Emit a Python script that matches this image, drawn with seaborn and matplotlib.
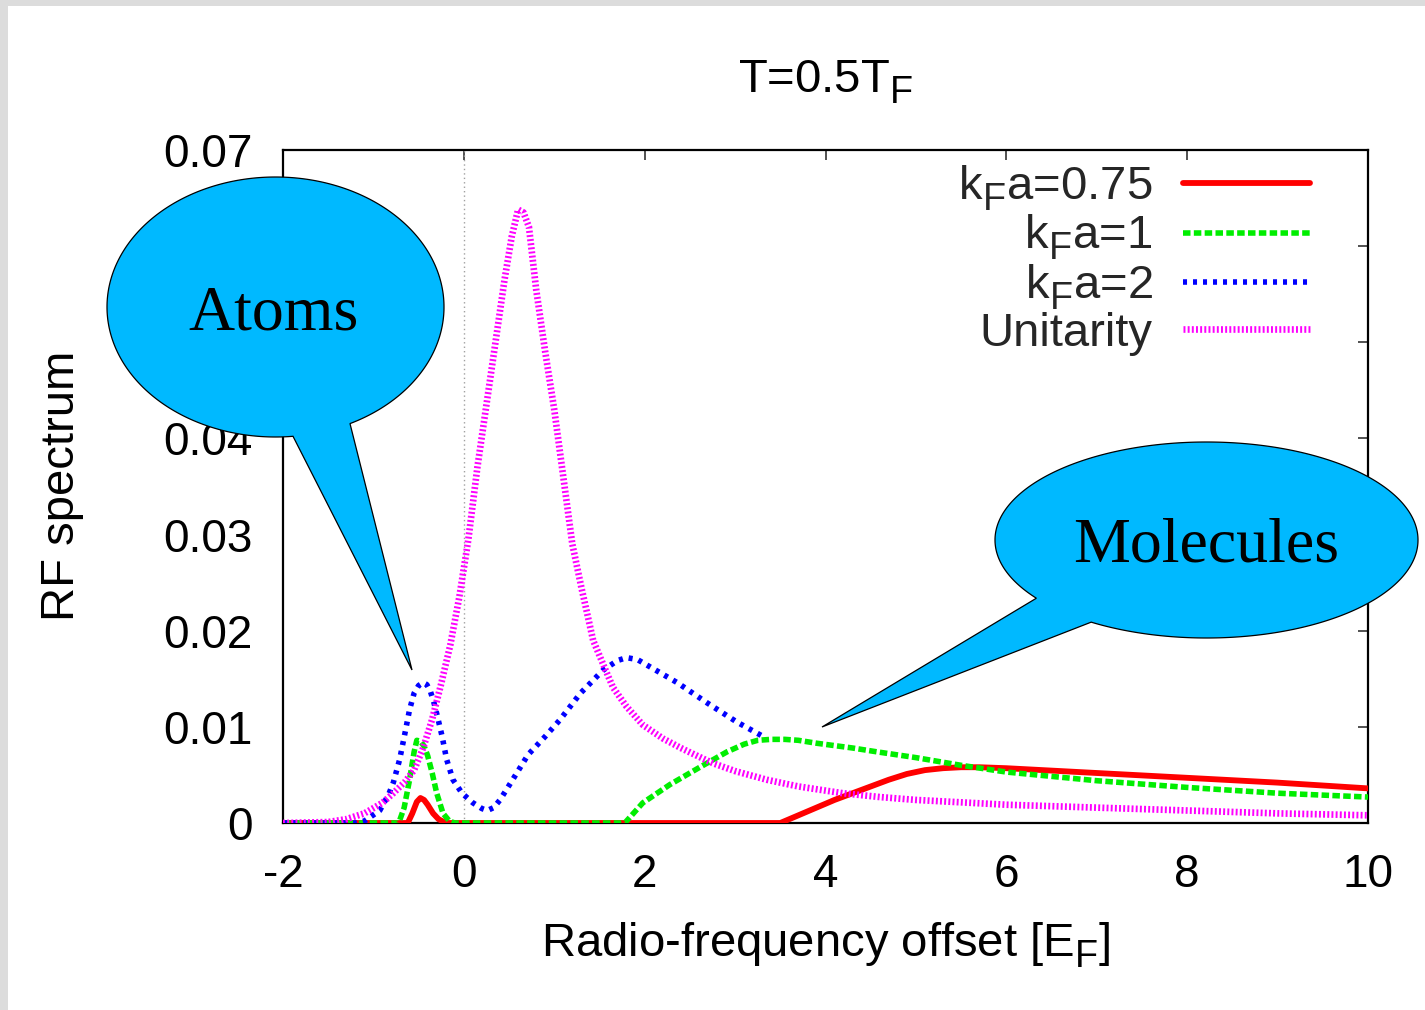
import numpy as np
import pandas as pd
import matplotlib
matplotlib.use("Agg")
import matplotlib.pyplot as plt
import seaborn as sns
from matplotlib.patches import Polygon, Rectangle

# ---------------- data ----------------
x_kfa075 = [-2.0, -0.62, -0.57, -0.52, -0.48, -0.44, -0.40, -0.34, -0.28, -0.22, -0.18,
            3.5, 3.7, 3.9, 4.1, 4.3, 4.5, 4.7, 4.9, 5.1, 5.3, 5.5, 5.7, 6.0, 7.0, 8.0, 9.0, 10.0]
y_kfa075 = [0.0, 0.0, 0.0010, 0.0022, 0.0026, 0.0024, 0.0019, 0.0010, 0.0004, 0.0001, 0.0,
            0.0, 0.0008, 0.0016, 0.0024, 0.0031, 0.0038, 0.0045, 0.0051, 0.0055, 0.0057,
            0.0058, 0.0058, 0.0057, 0.0052, 0.0047, 0.0042, 0.0036]

x_kfa1 = [-2.0, -0.72, -0.66, -0.60, -0.55, -0.52, -0.48, -0.44, -0.40, -0.35, -0.30, -0.23,
          -0.16, -0.10, 1.78, 1.98, 2.28, 2.61, 2.91, 3.10, 3.25, 3.40, 3.55, 3.7, 3.9, 4.3,
          4.57, 5.0, 5.5, 6.0, 7.0, 8.0, 9.0, 10.0]
y_kfa1 = [0.0, 0.0, 0.0016, 0.0045, 0.0074, 0.0086, 0.0085, 0.0080, 0.0070, 0.0052, 0.0031,
          0.0010, 0.0002, 0.0, 0.0, 0.0021, 0.0040, 0.0058, 0.0074, 0.0082, 0.0086, 0.0087,
          0.0087, 0.0086, 0.0083, 0.0078, 0.0074, 0.0068, 0.0060, 0.0053, 0.0044, 0.0037,
          0.0031, 0.0027]

x_kfa2 = [-2.0, -1.2, -1.1, -0.93, -0.83, -0.78, -0.71, -0.65, -0.60, -0.55, -0.50, -0.45,
          -0.41, -0.37, -0.33, -0.29, -0.24, -0.19, -0.12, -0.02, 0.10, 0.20, 0.26, 0.33,
          0.40, 0.54, 0.71, 0.90, 1.06, 1.29, 1.54, 1.70, 1.80, 1.92, 2.03, 2.36, 2.69,
          3.02, 3.31]
y_kfa2 = [0.0, 0.0, 0.0002, 0.0013, 0.0030, 0.0042, 0.0066, 0.0094, 0.0118, 0.0135, 0.0143,
          0.0146, 0.0144, 0.0137, 0.0125, 0.0110, 0.0090, 0.0066, 0.0045, 0.0031, 0.0021,
          0.0015, 0.0013, 0.0016, 0.0024, 0.0045, 0.0071, 0.0090, 0.0107, 0.0135, 0.0159,
          0.0169, 0.0172, 0.0170, 0.0164, 0.0146, 0.0125, 0.0105, 0.0090]

x_unit = [-2.0, -1.5, -1.3, -1.1, -0.9, -0.78, -0.65, -0.55, -0.45, -0.35, -0.25, -0.15,
          -0.05, 0.05, 0.15, 0.25, 0.35, 0.45, 0.53, 0.60, 0.66, 0.72, 0.80, 0.90, 1.0, 1.1,
          1.2, 1.3, 1.43, 1.55, 1.65, 1.8, 1.98, 2.2, 2.4, 2.6, 2.76, 3.0, 3.35, 3.7, 4.19,
          4.6, 5.0, 6.0, 7.0, 8.0, 9.0, 10.0]
y_unit = [0.0, 0.0001, 0.0004, 0.0010, 0.0021, 0.0031, 0.0043, 0.0055, 0.0078, 0.0108,
          0.0145, 0.0185, 0.0235, 0.0295, 0.0370, 0.0435, 0.0500, 0.0565, 0.0610, 0.0638,
          0.0635, 0.0620, 0.0555, 0.0490, 0.0430, 0.0360, 0.0290, 0.0245, 0.0190, 0.0163,
          0.0141, 0.0121, 0.0102, 0.0088, 0.0078, 0.0069, 0.0062, 0.0054, 0.0045, 0.0038,
          0.0031, 0.0027, 0.0024, 0.0019, 0.0016, 0.0013, 0.0010, 0.0008]

labels = ["k$_\\mathregular{F}$a=0.75", "k$_\\mathregular{F}$a=1",
          "k$_\\mathregular{F}$a=2", "Unitarity"]
x_ticks = [-2, 0, 2, 4, 6, 8, 10]
y_ticks = [0.0, 0.01, 0.02, 0.03, 0.04, 0.05, 0.06, 0.07]
y_ticklabels = ["0", "0.01", "0.02", "0.03", "0.04", "0.05", "0.06", "0.07"]

# ---------------- style ----------------
sns.set_theme(style="white")
plt.rcParams["font.family"] = ["Liberation Sans", "DejaVu Sans"]
plt.rcParams["mathtext.fontset"] = "custom"
plt.rcParams["mathtext.rm"] = "Liberation Sans"
plt.rcParams["mathtext.it"] = "Liberation Sans:italic"
plt.rcParams["lines.scale_dashes"] = False

# larger, lower subscripts (gnuplot-like)
try:
    import matplotlib._mathtext as _mt
    _mt.SHRINK_FACTOR = 0.8
    _mt.FontConstantsBase.sub1 = 0.45
except Exception:
    pass

W, H = 1425, 1010
fig = plt.figure(figsize=(W / 100, H / 100), dpi=100)
fig.patch.set_facecolor("white")

# light grey frame strips along top and left edges
fig.add_artist(Rectangle((0, 1 - 6 / H), 1, 6 / H, transform=fig.transFigure,
                         color="#dcdcdc", lw=0, zorder=0))
fig.add_artist(Rectangle((0, 0), 8 / W, 1, transform=fig.transFigure,
                         color="#dcdcdc", lw=0, zorder=0))

ax = fig.add_axes([283 / W, 1 - 823 / H, 1085 / W, 673 / H])
ax.set_facecolor("white")

styles = [
    (x_kfa075, y_kfa075, labels[0], "#ff0000", 4.2, "-"),
    (x_kfa1, y_kfa1, labels[1], "#00ee00", 4.0, (0, (5.4, 2.4))),
    (x_kfa2, y_kfa2, labels[2], "#0000ff", 4.0, (0, (2.9, 4.3))),
    (x_unit, y_unit, labels[3], "#ff00ff", 4.8, (0, (1.4, 1.6))),
]

ax.axvline(0, color="#a0a0a0", lw=1.0, ls=(0, (1, 2.2)), zorder=1)

for xs, ys, lab, col, lw, ls in styles:
    df = pd.DataFrame({"x": xs, "y": ys})
    sns.lineplot(data=df, x="x", y="y", ax=ax, color=col, lw=lw, linestyle=ls,
                 label=lab, sort=False, estimator=None, zorder=3)

ax.set_xlim(-2, 10)
ax.set_ylim(0, 0.07)
ax.set_xticks(x_ticks)
ax.set_xticklabels([str(v) for v in x_ticks])
ax.set_yticks(y_ticks)
ax.set_yticklabels(y_ticklabels)
ax.tick_params(axis="both", direction="in", length=7.2, width=1.2, color="#333333",
               top=True, right=True, labelsize=33, labelcolor="black")
ax.tick_params(axis="x", pad=21.5)
ax.tick_params(axis="y", pad=22)
for sp in ax.spines.values():
    sp.set_color("black")
    sp.set_linewidth(1.6)

ax.set_xlabel("Radio-frequency offset [E$_\\mathregular{F}$]", fontsize=34, color="black")
ax.xaxis.set_label_coords(0.5, (823 - 957) / 673)
ax.xaxis.label.set_verticalalignment("baseline")
ax.set_ylabel("RF spectrum", fontsize=34, color="black")
ax.yaxis.set_label_coords((74 - 283) / 1085, 0.5007)
ax.yaxis.label.set_verticalalignment("baseline")

fig.text(825.5 / W, 1 - 92.5 / H, "T=0.5T$_\\mathregular{F}$", fontsize=34,
         ha="center", va="baseline", color="black")

leg = ax.legend(loc="upper right", bbox_to_anchor=((1310 - 283) / 1085, (823 - 164) / 673),
                markerfirst=False, frameon=False, fontsize=34, handlelength=2.69,
                handletextpad=0.64, labelspacing=0.0, borderpad=0, borderaxespad=0)

# ---------------- speech bubbles ----------------
ov = fig.add_axes([0, 0, 1, 1], zorder=5)
ov.set_xlim(0, W)
ov.set_ylim(H, 0)
ov.axis("off")
ov.patch.set_alpha(0)

BUBBLE = "#00b9ff"


def bubble(cx, cy, w, h, base_a, base_b, tip, text, tx, ty, fs):
    a, b = w / 2, h / 2
    ta = np.degrees(np.arctan2((base_a[1] - cy) / b, (base_a[0] - cx) / a)) % 360
    tb = np.degrees(np.arctan2((base_b[1] - cy) / b, (base_b[0] - cx) / a)) % 360
    lo, hi = min(ta, tb), max(ta, tb)
    t = np.radians(np.linspace(hi, lo + 360, 400))
    pts = np.column_stack([cx + a * np.cos(t), cy + b * np.sin(t)])
    pts = np.vstack([pts, tip])
    ov.add_patch(Polygon(pts, closed=True, fc=BUBBLE, ec="black", lw=0.9, zorder=2))
    ov.text(tx, ty, text, family="Liberation Serif", fontsize=fs, ha="center",
            va="baseline", color="black", zorder=3)


bubble(275.5, 307, 337, 260, (293, 436.3), (350, 423.6), (412, 670),
       "Atoms", 274, 330, 46)
bubble(1206.5, 540, 423, 196, (1037, 598), (1090, 623), (822, 727),
       "Molecules", 1206, 562, 46)

fig.savefig("out.png", dpi=100, facecolor="white")
